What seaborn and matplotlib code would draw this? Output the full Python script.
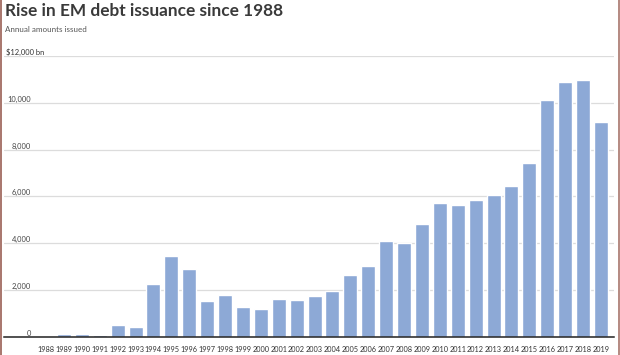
import matplotlib
matplotlib.use("Agg")
import matplotlib.pyplot as plt
import matplotlib.transforms as mtransforms
from matplotlib.lines import Line2D
import seaborn as sns
import pandas as pd

years = [str(y) for y in range(1988, 2020)]
issuance = [0, 110, 110, 90, 490, 420, 2240, 3430, 2880, 1510, 1800, 1260, 1170,
            1630, 1590, 1760, 1940, 2630, 3040, 4100, 3990, 4830, 5730, 5650,
            5830, 6070, 6460, 7430, 10100, 10890, 10960, 9170]
ytick_vals = [0, 2000, 4000, 6000, 8000, 10000]
ytick_labels = ["0", "2,000", "4,000", "6,000", "8,000", "10,000"]
top_label = "$12,000 bn"
title = "Rise in EM debt issuance since 1988"
subtitle = "Annual amounts issued"

df = pd.DataFrame({"year": years, "value": issuance})

sns.set_theme(style="white")
plt.rcParams["font.family"] = ["Lato", "DejaVu Sans"]

W, H = 620, 355
fig = plt.figure(figsize=(W / 100, H / 100), dpi=100)
fig.patch.set_facecolor("white")

ax = fig.add_axes([4 / W, 1 - 336.7 / H, (614 - 4) / W, (336.7 - 56) / H])
sns.barplot(data=df, x="year", y="value", color="#8DA9D6", saturation=1,
            width=0.78, ax=ax)
ax.set_xlim(-2.35, 31.73)
ax.set_ylim(0, 12000)
ax.set_xlabel("")
ax.set_ylabel("")
for s in ["top", "right", "left"]:
    ax.spines[s].set_visible(False)
ax.spines["bottom"].set_color("#222222")
ax.spines["bottom"].set_linewidth(1.1)
ax.spines["bottom"].set_zorder(5)

ax.set_yticks(ytick_vals + [12000])
ax.set_yticklabels([])
ax.tick_params(axis="y", length=0)
ax.yaxis.grid(True, color="#dcdcdc", linewidth=0.9)
ax.set_axisbelow(True)

ax.tick_params(axis="x", length=0, pad=6.5, labelsize=5.3, labelcolor="#333333")

trans = mtransforms.blended_transform_factory(fig.transFigure, ax.transData)
for v, lab in zip(ytick_vals, ytick_labels):
    ax.text(31 / W, v, lab, transform=trans, ha="right", va="bottom",
            fontsize=5.4, color="#444444")
ax.text(6 / W, 12000, top_label, transform=trans, ha="left", va="bottom",
        fontsize=5.4, color="#333333")

fig.text(5 / W, 1 - 11 / H, title, ha="left", va="center", fontsize=12.4,
         fontweight="bold", color="#3a3a3a")
fig.text(5 / W, 1 - 29.5 / H, subtitle, ha="left", va="center", fontsize=5.8,
         color="#555555")

fig.add_artist(Line2D([0.8 / W, 0.8 / W], [0, 1], transform=fig.transFigure,
                      color="#a8766c", linewidth=1.4))
fig.add_artist(Line2D([618.5 / W, 618.5 / W], [0, 1], transform=fig.transFigure,
                      color="#a8766c", linewidth=1.2))

fig.savefig("out.png", dpi=100, facecolor="white")
